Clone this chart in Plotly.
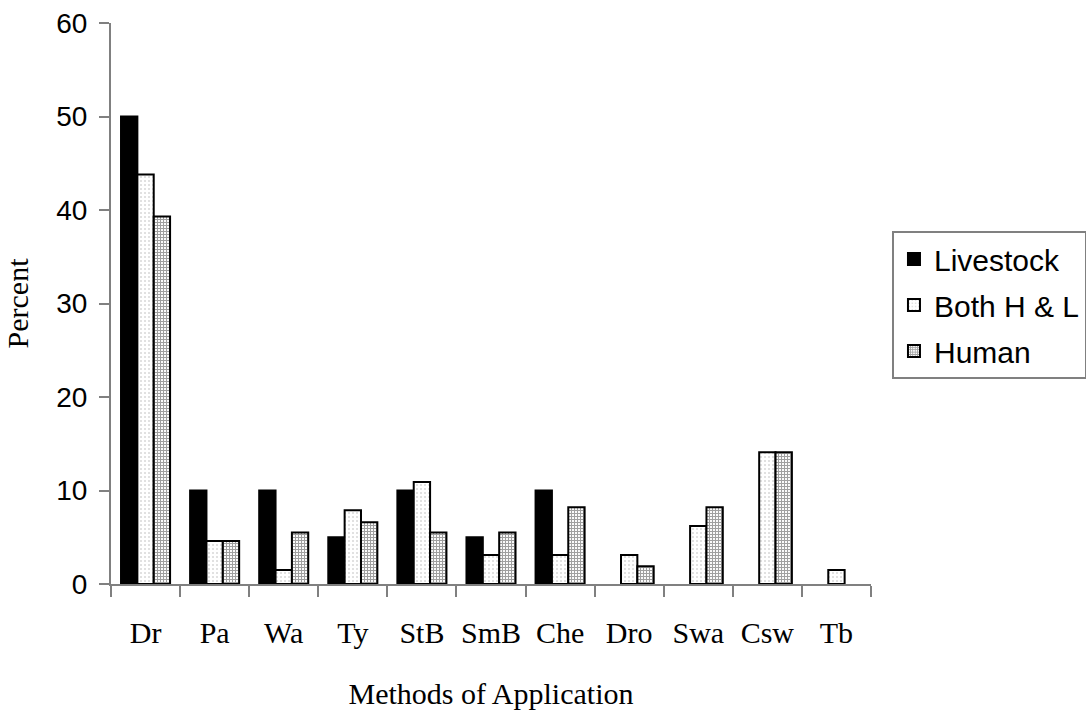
import plotly.graph_objects as go

categories = ["Dr", "Pa", "Wa", "Ty", "StB", "SmB", "Che", "Dro", "Swa", "Csw", "Tb"]
livestock = [50, 10, 10, 5, 10, 5, 10, None, None, None, None]
both_hl = [43.8, 4.6, 1.5, 7.9, 10.9, 3.1, 3.1, 3.1, 6.2, 14.1, 1.5]
human = [39.3, 4.6, 5.5, 6.6, 5.5, 5.5, 8.2, 1.9, 8.2, 14.1, None]
y_ticks = [0, 10, 20, 30, 40, 50, 60]

SERIF = "Liberation Serif, Times New Roman, serif"
SANS = "Liberation Sans, Arial, sans-serif"

fig = go.Figure()
fig.add_trace(go.Bar(
    x=categories, y=livestock, name="Livestock", legendgroup="a",
    marker=dict(color="black", line=dict(color="black", width=2)),
))
fig.add_trace(go.Bar(
    x=categories, y=both_hl, name="Both H & L", legendgroup="b",
    marker=dict(color="white", line=dict(color="black", width=2),
                pattern=dict(shape=".", fgcolor="#b0b0b0", bgcolor="white", size=4, solidity=0.2)),
))
fig.add_trace(go.Bar(
    x=categories, y=human, name="Human", legendgroup="c",
    marker=dict(color="white", line=dict(color="black", width=2),
                pattern=dict(shape="+", fgcolor="#404040", bgcolor="white", size=3, solidity=0.6)),
))

fig.update_layout(
    width=1086, height=711,
    margin=dict(l=111, r=215, t=23, b=127, autoexpand=False),
    paper_bgcolor="white", plot_bgcolor="white",
    barmode="group", bargap=0.29, bargroupgap=0,
    showlegend=True,
    legend=dict(
        x=1.0276, y=0.6294, xanchor="left", yanchor="top",
        font=dict(family=SANS, size=30, color="black"),
        bordercolor="#808080", borderwidth=2, bgcolor="white",
        traceorder="grouped", tracegroupgap=4,
    ),
    xaxis=dict(
        showline=True, linecolor="#808080", linewidth=2,
        ticks="outside", ticklen=11, tickcolor="#808080", tickwidth=2,
        tickson="boundaries", tickangle=0,
        tickfont=dict(family=SERIF, size=30, color="black"),
        ticklabelstandoff=21,
        title=dict(text="Methods of Application", standoff=35,
                   font=dict(family=SERIF, size=30, color="black")),
        showgrid=False, zeroline=False,
    ),
    yaxis=dict(
        range=[0, 60], tickvals=y_ticks,
        showline=True, linecolor="#808080", linewidth=2,
        ticks="outside", ticklen=10, tickcolor="#808080", tickwidth=2,
        tickfont=dict(family=SANS, size=28, color="black"),
        ticklabelstandoff=6,
        title=dict(text="Percent", standoff=19,
                   font=dict(family=SERIF, size=30, color="black")),
        showgrid=False, zeroline=False,
    ),
)

fig.write_html("out.html")
